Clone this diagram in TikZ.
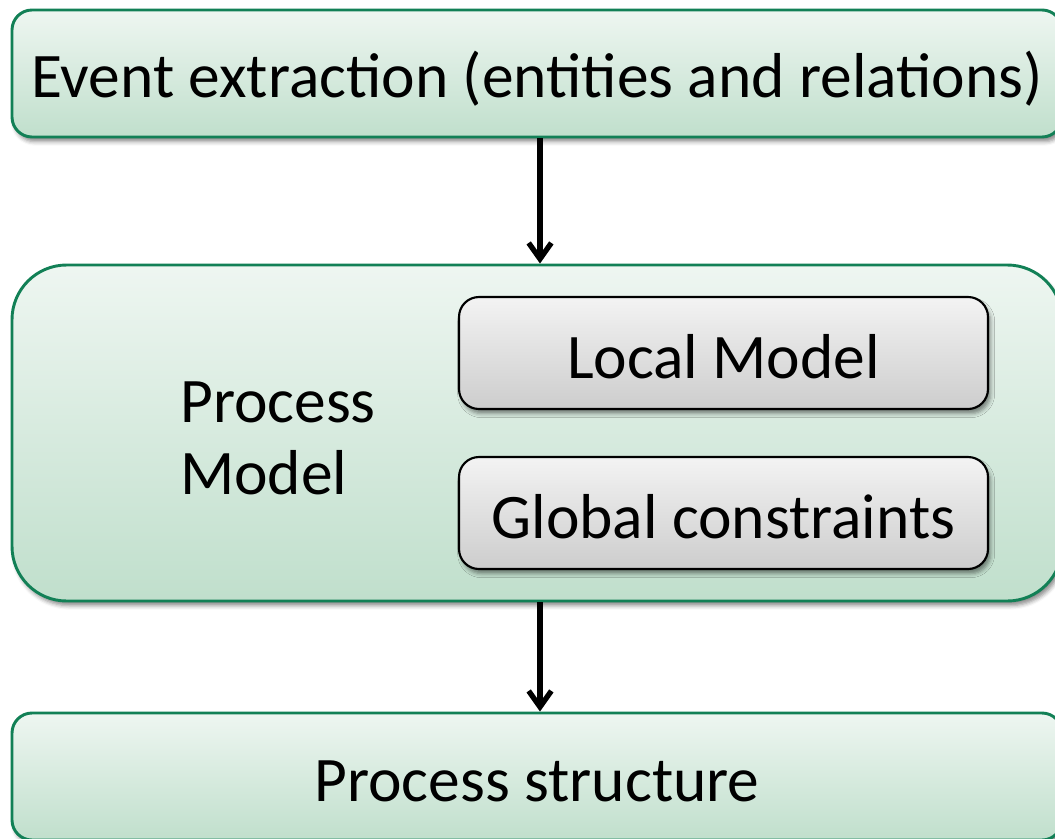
\documentclass[tikz,border=0pt]{standalone}
\usepackage{fontspec}
\setmainfont{Carlito}
\usetikzlibrary{arrows.meta,shadows.blur}
\definecolor{bord}{RGB}{18,128,86}
\definecolor{gtop}{RGB}{238,246,241}
\definecolor{gbot}{RGB}{192,223,204}
\definecolor{ytop}{RGB}{243,243,243}
\definecolor{ybot}{RGB}{205,205,205}
\tikzset{
  shad/.style={blur shadow={shadow xshift=2pt,shadow yshift=-3.5pt,shadow blur radius=3pt,shadow opacity=45}},
  greenbox/.style={draw=bord, line width=2.2pt, top color=gtop, bottom color=gbot,
    rounded corners=15pt, inner sep=0pt, shad},
  graybox/.style={draw=black, line width=1.6pt, top color=ytop, bottom color=ybot,
    rounded corners=15pt, inner sep=0pt, minimum width=396.75pt, minimum height=84pt, shad},
  flow/.style={line width=4pt, -{Straight Barb[length=12pt,width=17pt]}},
  lbl/.style={font=\fontsize{47.6}{54}\selectfont},
  fixbase/.style={text height=40pt, text depth=2.5pt}
}
\begin{document}
\begin{tikzpicture}[x=0.75pt,y=-0.75pt]
\useasboundingbox (0,0) rectangle (1055,838);
\clip (0,0) rectangle (1055,838);
\node[greenbox, lbl, fixbase, text height=39pt, minimum width=787.5pt, minimum height=95.25pt] (top) at (537,73.5)
  {Event extraction (entities and relations)};
\node[greenbox, rounded corners=41pt, minimum width=787.5pt, minimum height=252pt] (mid) at (537,433) {};
\node[greenbox, lbl, fixbase, minimum width=787.5pt, minimum height=95.25pt] (bot) at (537,776.5)
  {Process structure};
\node[graybox, lbl, fixbase] (local) at (723.5,353) {Local Model};
\node[graybox, lbl, fixbase, text height=41pt] (global) at (723.5,513) {Global constraints};
\node[lbl, anchor=west, align=left, inner sep=0pt] (pm) at (180,438) {Process\\Model};
\coordinate (ax) at (540,0);
\draw[flow] (top.south -| ax) -- (mid.north -| ax);
\draw[flow] (mid.south -| ax) -- (bot.north -| ax);
\end{tikzpicture}
\end{document}
